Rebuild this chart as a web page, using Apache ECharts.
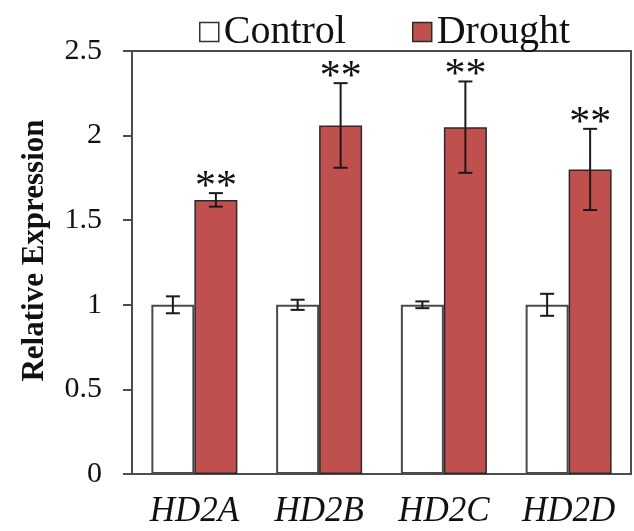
<!DOCTYPE html>
<html>
<head>
<meta charset="utf-8">
<script src="https://cdn.jsdelivr.net/npm/echarts@6/dist/echarts.min.js"></script>
<style>
  html, body { margin: 0; padding: 0; background: #fff; }
  #chart { width: 634px; height: 531px; }
</style>
</head>
<body>
<div id="chart"></div>
<script>
// Relative expression of HD2 genes under control and drought conditions
const genes = ['HD2A', 'HD2B', 'HD2C', 'HD2D'];
const controlMean = [1.00, 1.00, 1.00, 1.00];
const controlErr = [0.05, 0.03, 0.02, 0.065];
const droughtMean = [1.62, 2.06, 2.05, 1.80];
const droughtErr = [0.04, 0.25, 0.27, 0.24];
const droughtSig = ['**', '**', '**', '**'];
const yTicks = [0, 0.5, 1, 1.5, 2, 2.5];

const SERIF = '"Liberation Serif", "Times New Roman", serif';
const BAR_W = 43;
const DROUGHT_RED = '#C0504D';

const chart = echarts.init(document.getElementById('chart'), null, { renderer: 'canvas' });

// Error bars (and significance marks) drawn on top of each bar
function errorSeries(means, errs, sign, marks) {
  const data = means.map((m, i) => [i, m, errs[i], marks ? marks[i] : '']);
  return {
    type: 'custom',
    z: 10,
    silent: true,
    data: data,
    encode: { x: 0, y: 1 },
    renderItem: function (params, api) {
      const i = api.value(0);
      const mean = api.value(1);
      const err = api.value(2);
      const mark = data[params.dataIndex][3];
      const center = api.coord([i, mean]);
      const x = center[0] + sign * BAR_W / 2;
      const top = api.coord([i, mean + err])[1];
      const bot = api.coord([i, mean - err])[1];
      const cap = 7;
      const style = { stroke: '#1a1a1a', lineWidth: 2 };
      const children = [
        { type: 'line', shape: { x1: x, y1: top, x2: x, y2: bot }, style: style },
        { type: 'line', shape: { x1: x - cap, y1: top, x2: x + cap, y2: top }, style: style },
        { type: 'line', shape: { x1: x - cap, y1: bot, x2: x + cap, y2: bot }, style: style }
      ];
      if (mark) {
        // the asterisk glyph sits high in its em box, so the box overlaps the cap a little
        children.push({
          type: 'text',
          style: {
            text: mark,
            x: x,
            y: top + 16,
            align: 'center',
            verticalAlign: 'bottom',
            font: '42px ' + SERIF,
            fill: '#111'
          }
        });
      }
      return { type: 'group', children: children };
    }
  };
}

chart.setOption({
  animation: false,
  backgroundColor: '#ffffff',
  grid: {
    left: 132, right: 3, top: 51, bottom: 57,
    show: true, borderColor: '#4d4d4d', borderWidth: 2
  },
  legend: {
    top: 7,
    left: 194,
    itemWidth: 19,
    itemHeight: 19,
    itemGap: 66,
    icon: 'rect',
    textStyle: { fontFamily: SERIF, fontSize: 40, color: '#111' },
    data: [
      { name: 'Control', itemStyle: { color: '#fff', borderColor: '#333', borderWidth: 1.5 } },
      { name: 'Drought', itemStyle: { color: DROUGHT_RED, borderColor: '#2a2a2a', borderWidth: 1.5 } }
    ]
  },
  xAxis: {
    type: 'category',
    data: genes,
    axisLine: { lineStyle: { color: '#4d4d4d', width: 2 } },
    axisTick: { show: false },
    axisLabel: {
      fontFamily: SERIF, fontStyle: 'italic', fontSize: 35, color: '#111', margin: 20
    }
  },
  yAxis: {
    type: 'value',
    min: 0, max: 2.5, interval: 0.5,
    name: 'Relative Expression',
    nameLocation: 'middle',
    nameGap: 82,
    nameTextStyle: {
      fontFamily: SERIF, fontWeight: 'bold', fontSize: 31, color: '#111',
      padding: [0, 0, 0, 24]
    },
    axisLine: { show: true, lineStyle: { color: '#4d4d4d', width: 2 } },
    axisTick: { show: true, length: 9, lineStyle: { color: '#4d4d4d', width: 2 } },
    splitLine: { show: false },
    axisLabel: {
      fontFamily: SERIF, fontSize: 30, color: '#111', margin: 30,
      formatter: v => String(yTicks.find(t => Math.abs(t - v) < 1e-9) ?? v)
    }
  },
  series: [
    {
      name: 'Control', type: 'bar', barWidth: BAR_W, barGap: '0%',
      data: controlMean,
      itemStyle: { color: '#ffffff', borderColor: '#4a4a4a', borderWidth: 2 }
    },
    {
      name: 'Drought', type: 'bar', barWidth: BAR_W, barGap: '0%',
      data: droughtMean,
      itemStyle: { color: DROUGHT_RED, borderColor: '#2a2a2a', borderWidth: 1.5 }
    },
    errorSeries(controlMean, controlErr, -1, null),
    errorSeries(droughtMean, droughtErr, 1, droughtSig)
  ]
});
</script>
</body>
</html>
